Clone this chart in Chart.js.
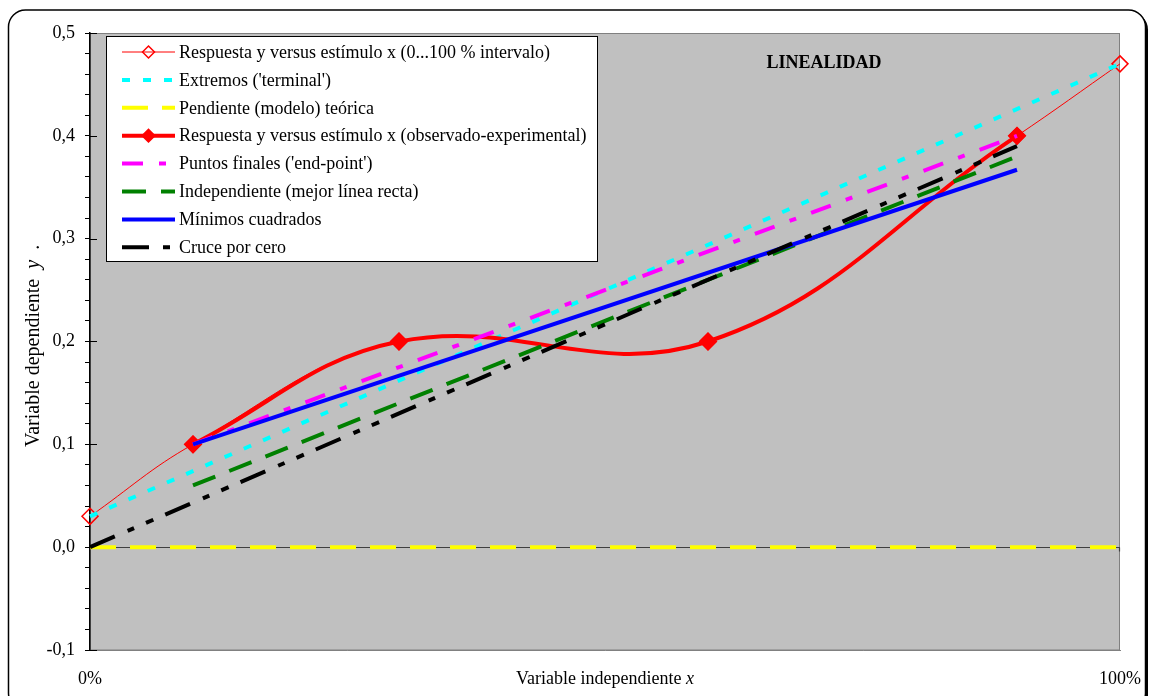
<!DOCTYPE html>
<html>
<head>
<meta charset="utf-8">
<title>Linealidad</title>
<script src="https://cdn.jsdelivr.net/npm/chart.js@4/dist/chart.umd.min.js"></script>
<style>
  html, body { margin: 0; padding: 0; background: #fff; }
  #wrap { width: 1154px; height: 696px; }
</style>
</head>
<body>
<div id="wrap"><canvas id="chart" width="1154" height="696"></canvas></div>
<script>
// Values (x in % of the range, y = dependent variable)
const intervalX = [0, 10, 30, 60, 90, 100];
const intervalY = [0.03, 0.1, 0.2, 0.2, 0.4, 0.47];
const terminalX = [0, 100];
const terminalY = [0.03, 0.47];
const theoreticalX = [0, 100];
const theoreticalY = [0, 0];
const observedX = [10, 30, 60, 90];
const observedY = [0.1, 0.2, 0.2, 0.4];
const endPointX = [10, 90];
const endPointY = [0.1, 0.4];
const independentX = [10, 90];
const independentY = [0.06, 0.38];
const leastSquaresX = [10, 90];
const leastSquaresY = [0.1, 0.367];
const zeroCrossX = [0, 90];
const zeroCrossY = [0, 0.39];

// Axis ticks and their labels
const xTickValues = [0, 100];
const xTickLabels = ["0%", "100%"];
const yMajorValues = [-0.1, 0, 0.1, 0.2, 0.3, 0.4, 0.5];
const yTickLabels = ["-0,1", "0,0", "0,1", "0,2", "0,3", "0,4", "0,5"];
const yMinorStep = 0.02;

const SERIF = "'Times New Roman', 'Liberation Serif', serif";

function pts(xs, ys) { return xs.map((x, i) => ({ x: x, y: ys[i] })); }

function line(label, xs, ys, color, width, dash, extra) {
  return Object.assign({
    label: label,
    data: pts(xs, ys),
    showLine: true,
    borderColor: color,
    backgroundColor: color,
    borderWidth: width,
    borderDash: dash,
    pointRadius: 0,
    tension: 0,
    clip: false
  }, extra || {});
}

const datasets = [
  line("Respuesta y versus estímulo x (0...100 % intervalo)", intervalX, intervalY, "#ff0000", 1, [], {
    tension: 0.4, pointStyle: "rectRot", pointRadius: 8, pointBorderWidth: 1.5,
    pointBackgroundColor: "rgba(0,0,0,0)", pointBorderColor: "#ff0000"
  }),
  line("Extremos ('terminal')", terminalX, terminalY, "#00ffff", 4, [8, 13]),
  line("Pendiente (modelo) teórica", theoreticalX, theoreticalY, "#ffff00", 4, [26, 14]),
  line("Respuesta y versus estímulo x (observado-experimental)", observedX, observedY, "#ff0000", 4, [], {
    tension: 0.4, pointStyle: "rectRot", pointRadius: 8, pointBorderWidth: 2,
    pointBackgroundColor: "#ff0000", pointBorderColor: "#ff0000"
  }),
  line("Puntos finales ('end-point')", endPointX, endPointY, "#ff00ff", 4, [21, 16, 7, 16]),
  line("Independiente (mejor línea recta)", independentX, independentY, "#008000", 4, [24, 15]),
  line("Mínimos cuadrados", leastSquaresX, leastSquaresY, "#0000ff", 4, []),
  line("Cruce por cero", zeroCrossX, zeroCrossY, "#000000", 4, [27, 14, 7, 13, 8, 13])
];
// later series drawn on top, like the original spreadsheet
datasets.forEach((d, i) => { d.order = 20 - i; });

function roundRectPath(ctx, x, y, w, h, r) {
  ctx.beginPath();
  ctx.moveTo(x + r, y);
  ctx.arcTo(x + w, y, x + w, y + h, r);
  ctx.arcTo(x + w, y + h, x, y + h, r);
  ctx.arcTo(x, y + h, x, y, r);
  ctx.arcTo(x, y, x + w, y, r);
  ctx.closePath();
}

function isMajor(v) {
  return yMajorValues.some(m => Math.abs(m - v) < 1e-6);
}

// Frame, grey plot area, zero line, legend and texts
const decorPlugin = {
  id: "decor",
  beforeDraw(chart) {
    const ctx = chart.ctx, a = chart.chartArea;
    ctx.save();
    ctx.fillStyle = "#fff";
    ctx.fillRect(0, 0, chart.width, chart.height);
    // outer rounded frame with a small shadow
    roundRectPath(ctx, 11, 12.5, 1137, 700, 17);
    ctx.fillStyle = "#000";
    ctx.fill();
    roundRectPath(ctx, 8.5, 10, 1137, 700, 17);
    ctx.fillStyle = "#fff";
    ctx.fill();
    ctx.lineWidth = 1.5;
    ctx.strokeStyle = "#000";
    ctx.stroke();
    // plot area
    ctx.fillStyle = "#c0c0c0";
    ctx.fillRect(a.left, a.top, a.right - a.left, a.bottom - a.top);
    ctx.strokeStyle = "#808080";
    ctx.lineWidth = 1;
    ctx.strokeRect(a.left + 0.5, a.top + 0.5, a.right - a.left - 1, a.bottom - a.top - 0.5);
    ctx.restore();
  },
  beforeDatasetsDraw(chart) {
    const ctx = chart.ctx, a = chart.chartArea, ys = chart.scales.y;
    const y0 = Math.round(ys.getPixelForValue(0)) + 0.5;
    ctx.save();
    // horizontal axis crossing at y = 0
    ctx.strokeStyle = "#404040";
    ctx.lineWidth = 1.2;
    ctx.beginPath();
    ctx.moveTo(a.left, y0);
    ctx.lineTo(a.right, y0);
    ctx.moveTo(a.right - 0.5, y0);
    ctx.lineTo(a.right - 0.5, y0 + 4);
    ctx.stroke();
    // major ticks cross the vertical axis
    ctx.strokeStyle = "#000";
    ctx.lineWidth = 1;
    ctx.beginPath();
    yMajorValues.forEach(v => {
      const py = Math.round(ys.getPixelForValue(v)) + 0.5;
      ctx.moveTo(a.left, py);
      ctx.lineTo(a.left + 7, py);
    });
    ctx.stroke();
    ctx.restore();
  },
  afterDatasetsDraw(chart) {
    const ctx = chart.ctx;
    ctx.save();
    // legend box
    ctx.fillStyle = "#fff";
    ctx.fillRect(106.5, 36.5, 491, 225);
    ctx.strokeStyle = "#000";
    ctx.lineWidth = 1;
    ctx.strokeRect(106.5, 36.5, 491, 225);
    ctx.font = "18px " + SERIF;
    ctx.textBaseline = "middle";
    ctx.textAlign = "left";
    chart.data.datasets.forEach((ds, i) => {
      const cy = 52 + i * 27.9;
      ctx.strokeStyle = ds.borderColor;
      ctx.lineWidth = ds.borderWidth;
      ctx.setLineDash(ds.borderDash || []);
      ctx.beginPath();
      ctx.moveTo(122, cy);
      ctx.lineTo(175, cy);
      ctx.stroke();
      ctx.setLineDash([]);
      if (ds.pointRadius > 0) {
        ctx.fillStyle = ds.pointBackgroundColor;
        ctx.strokeStyle = ds.pointBorderColor;
        ctx.lineWidth = ds.pointBorderWidth;
        Chart.helpers.drawPoint(ctx, { pointStyle: ds.pointStyle, radius: 6, rotation: 0, borderWidth: ds.pointBorderWidth }, 148.5, cy);
      }
      ctx.fillStyle = "#000";
      ctx.fillText(ds.label, 179, cy + 1);
    });
    ctx.restore();
  },
  afterDraw(chart) {
    const ctx = chart.ctx;
    ctx.save();
    ctx.fillStyle = "#000";
    ctx.textBaseline = "middle";
    // chart title inside the plot
    ctx.font = "bold 18px " + SERIF;
    ctx.textAlign = "center";
    ctx.fillText("LINEALIDAD", 824, 63);
    // x axis title, on the same line as the tick labels
    ctx.textAlign = "left";
    ctx.font = "18px " + SERIF;
    const part1 = "Variable independiente ";
    const w1 = ctx.measureText(part1).width;
    ctx.font = "italic 18px " + SERIF;
    const w2 = ctx.measureText("x").width;
    let sx = 605 - (w1 + w2) / 2;
    ctx.font = "18px " + SERIF;
    ctx.fillText(part1, sx, 679);
    ctx.font = "italic 18px " + SERIF;
    ctx.fillText("x", sx + w1, 679);
    // y axis title, rotated
    ctx.translate(34, 447);
    ctx.rotate(-Math.PI / 2);
    ctx.font = "20px " + SERIF;
    const p1 = "Variable dependiente  ";
    ctx.fillText(p1, 0, 0);
    let off = ctx.measureText(p1).width;
    ctx.font = "italic 20px " + SERIF;
    ctx.fillText("y", off, 0);
    off += ctx.measureText("y").width;
    ctx.font = "20px " + SERIF;
    ctx.fillText("  .", off, 0);
    ctx.restore();
  }
};

Chart.defaults.font.family = SERIF;
Chart.defaults.font.size = 18;
Chart.defaults.color = "#000";

new Chart(document.getElementById("chart").getContext("2d"), {
  type: "scatter",
  data: { datasets: datasets },
  options: {
    responsive: false,
    devicePixelRatio: 1,
    animation: false,
    events: [],
    layout: { padding: { left: 0, right: 34, top: 33, bottom: 0 } },
    plugins: {
      legend: { display: false },
      title: { display: false },
      tooltip: { enabled: false }
    },
    scales: {
      x: {
        type: "linear",
        min: 0,
        max: 100,
        afterFit: s => { s.height = 46; s.paddingLeft = 0; s.paddingRight = 0; },
        afterBuildTicks: s => { s.ticks = xTickValues.map(v => ({ value: v })); },
        ticks: {
          autoSkip: false,
          maxRotation: 0,
          minRotation: 0,
          padding: 18,
          callback: v => xTickLabels[xTickValues.indexOf(v)]
        },
        grid: { display: false, drawTicks: false },
        border: { display: true, color: "#808080", width: 1 }
      },
      y: {
        type: "linear",
        min: -0.1,
        max: 0.5,
        afterFit: s => { s.width = 90; s.paddingTop = 0; s.paddingBottom = 0; },
        afterBuildTicks: s => {
          const t = [];
          for (let k = 0; k <= Math.round((0.5 + 0.1) / yMinorStep); k++) {
            t.push({ value: Math.round((-0.1 + k * yMinorStep) * 1000) / 1000 });
          }
          s.ticks = t;
        },
        ticks: {
          autoSkip: false,
          padding: 10,
          callback: v => {
            if (!isMajor(v)) return "";
            return yTickLabels[yMajorValues.findIndex(m => Math.abs(m - v) < 1e-6)];
          }
        },
        grid: { drawOnChartArea: false, drawTicks: true, tickLength: 5, color: "#000", lineWidth: 1 },
        border: { display: true, color: "#000", width: 1.5 }
      }
    }
  },
  plugins: [decorPlugin]
});
</script>
</body>
</html>
